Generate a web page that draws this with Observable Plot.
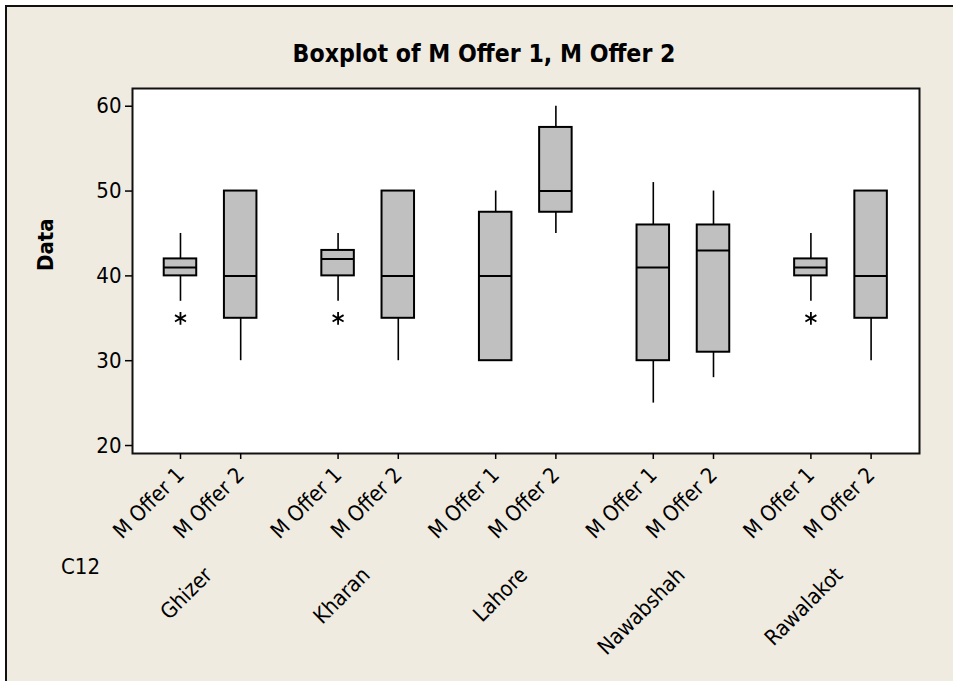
<!DOCTYPE html>
<html>
<head>
<meta charset="utf-8">
<script src="https://cdn.jsdelivr.net/npm/d3@7"></script>
<script src="https://cdn.jsdelivr.net/npm/@observablehq/plot@0.6"></script>
<style>
  html, body { margin: 0; padding: 0; background: #ffffff; overflow: hidden; width: 953px; height: 681px; }
  #frame { position: absolute; left: 5px; top: 5px; width: 948px; height: 676px; border-left: 2px solid #111; border-top: 2px solid #111; background: #EFEBE1; box-sizing: border-box; }
  #title { position: absolute; left: 0; width: 968px; top: 39px; text-align: center; font-family: "DejaVu Sans Condensed", "DejaVu Sans", sans-serif; font-weight: bold; font-size: 24.6px; color: #000; }
  #chart { position: absolute; left: 0; top: 0; }
</style>
</head>
<body>
<div id="frame"></div>
<div id="title">Boxplot of M Offer 1, M Offer 2</div>
<div id="chart"></div>
<script>
// ---- data ----
const groups = ["Ghizer", "Kharan", "Lahore", "Nawabshah", "Rawalakot"];
const offers = ["M Offer 1", "M Offer 2"];
// per box, ordered group by group, offer 1 then offer 2
const whiskerLow  = [37, 30,   37, 30,   30,   45,   25, 28,   37, 30];
const q1          = [40, 35,   40, 35,   30,   47.5, 30, 31,   40, 35];
const median      = [41, 40,   42, 40,   40,   50,   41, 43,   41, 40];
const q3          = [42, 50,   43, 50,   47.5, 57.5, 46, 46,   42, 50];
const whiskerHigh = [45, 50,   45, 50,   50,   60,   51, 50,   45, 50];
const outlierGroup = ["Ghizer", "Kharan", "Rawalakot"];
const outlierOffer = ["M Offer 1", "M Offer 1", "M Offer 1"];
const outlierValue = [35, 35, 35];
const yTicks = [20, 30, 40, 50, 60];

// ---- layout helpers ----
const groupStep = 2.618;   // distance between groups, in units of the within-group gap
const halfBox = 0.27;
const pos = (g, o) => groups.indexOf(g) * groupStep + offers.indexOf(o);

const rows = groups.flatMap((g, gi) => offers.map((o, oi) => {
  const i = gi * 2 + oi;
  return {g, o, x: pos(g, o), low: whiskerLow[i], q1: q1[i], med: median[i], q3: q3[i], high: whiskerHigh[i]};
}));
const outliers = outlierGroup.map((g, i) => ({x: pos(g, outlierOffer[i]), v: outlierValue[i]}));
const groupRows = groups.map(g => ({g, x: (pos(g, offers[0]) + pos(g, offers[1])) / 2}));

const font = '"DejaVu Sans Condensed", "DejaVu Sans", sans-serif';

const chart = Plot.plot({
  width: 953,
  height: 681,
  marginLeft: 132,
  marginRight: 34,
  marginTop: 88,
  marginBottom: 228,
  style: {fontFamily: font, fontSize: "22px", color: "#000", background: "transparent", overflow: "visible"},
  x: {domain: [-0.797, 12.276]},
  y: {domain: [19.06, 62.09]},
  marks: [
    Plot.frame({fill: "white", stroke: "none"}),
    // whiskers
    Plot.ruleX(rows, {x: "x", y1: "q3", y2: "high", stroke: "#000", strokeWidth: 1.6}),
    Plot.ruleX(rows, {x: "x", y1: "low", y2: "q1", stroke: "#000", strokeWidth: 1.6}),
    // boxes
    Plot.rect(rows, {x1: d => d.x - halfBox, x2: d => d.x + halfBox, y1: "q1", y2: "q3", fill: "#C0C0C0", stroke: "#000", strokeWidth: 2}),
    // medians
    Plot.ruleY(rows, {y: "med", x1: d => d.x - halfBox, x2: d => d.x + halfBox, stroke: "#000", strokeWidth: 2}),
    // outliers
    Plot.dot(outliers, {x: "x", y: "v", symbol: "asterisk", r: 6, stroke: "#000", strokeWidth: 1.8}),
    Plot.frame({stroke: "#111", strokeWidth: 2}),
    Plot.axisY(yTicks, {tickSize: 7, tickPadding: 4, fontSize: 22, strokeWidth: 1.5, label: null}),
    Plot.axisX(rows.map(d => d.x), {tickSize: 6, tickPadding: 12, tickRotate: -45, fontSize: 21.5, strokeWidth: 1.5,
      tickFormat: (d, i) => rows[i].o, label: null}),
    Plot.text(groupRows, {x: "x", text: "g", frameAnchor: "bottom", dy: 118, dx: -2, rotate: -45, textAnchor: "end", lineAnchor: "middle", fontSize: 21.5}),
    Plot.text(["C12"], {frameAnchor: "bottom-left", dx: -52, dy: 120, textAnchor: "middle", fontSize: 22}),
    Plot.text(["Data"], {frameAnchor: "left", dx: -87, rotate: -90, fontWeight: "bold", fontSize: 22})
  ]
});
document.getElementById("chart").appendChild(chart);
</script>
</body>
</html>
